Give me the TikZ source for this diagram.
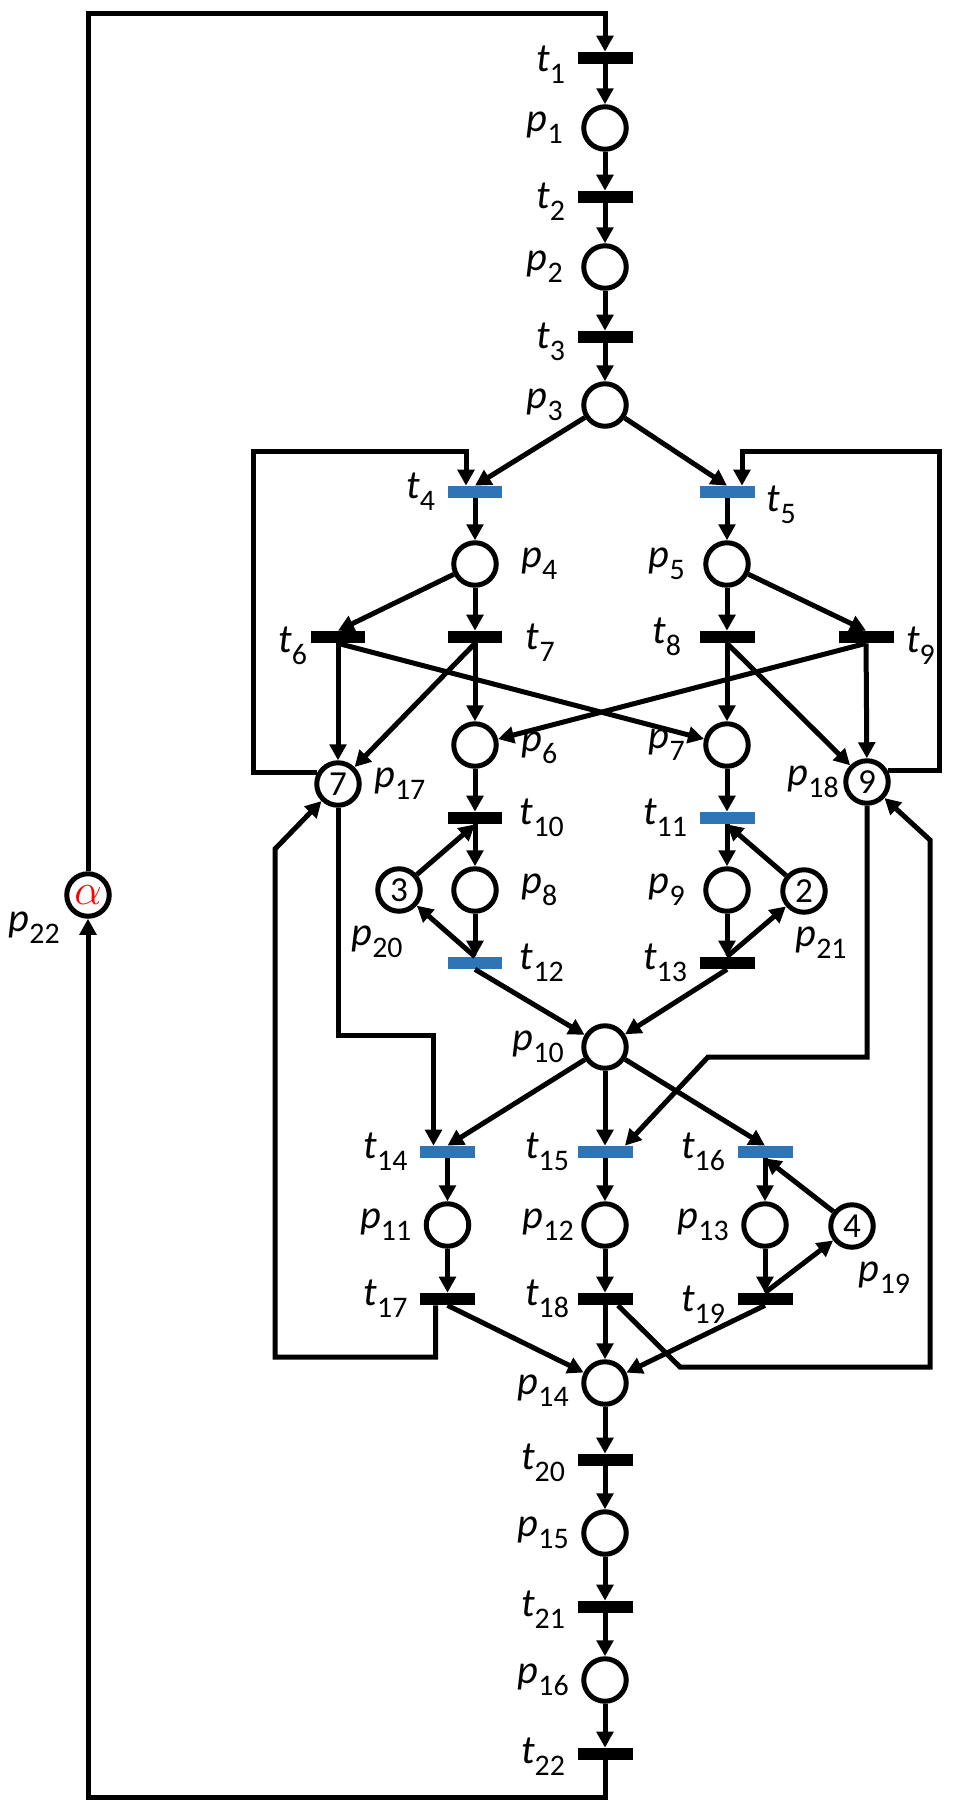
\documentclass[tikz,border=0pt]{standalone}
\usepackage{fontspec}
\setmainfont{Carlito}
\usetikzlibrary{arrows.meta,calc}
\definecolor{trblue}{RGB}{46,117,182}
\newcommand{\lfont}{\fontsize{23}{23}\selectfont}
\newcommand{\tlab}[1]{\textit{t}\raisebox{-0.3em}{\fontsize{17}{17}\selectfont #1}}
\newcommand{\plab}[1]{\textit{p}\raisebox{-0.3em}{\fontsize{17}{17}\selectfont #1}}
\tikzset{
	place/.style={circle,draw,line width=0.1cm,minimum size=0.85cm,inner sep=0pt,font=\fontsize{20}{20}\selectfont},
	trans/.style={rectangle,fill=black,minimum width=1.1cm,minimum height=0.254cm,inner sep=0pt,outer sep=0pt},
	btrans/.style={trans,fill=trblue},
	lab/.style={font=\lfont,inner sep=0pt}
}
\begin{document}
\begin{tikzpicture}[x=0.02cm,y=-0.02cm,>={Triangle[length=0.32cm,width=0.33cm]},line width=0.1cm,label distance=0.2cm]
	\useasboundingbox (0,0) rectangle (953,1813);
	% main column
	\node[trans,label={[lab,yshift=-0.14cm]left:\tlab{1}}] (t1) at (605,58) {};
	\node[place,label={[lab,xshift=-0.12cm]left:\plab{1}}] (p1) at (605,128) {};
	\node[trans,label={[lab,yshift=-0.1cm]left:\tlab{2}}] (t2) at (605,197) {};
	\node[place,label={[lab,xshift=-0.12cm]left:\plab{2}}] (p2) at (605,267) {};
	\node[trans,label={[lab,yshift=-0.1cm]left:\tlab{3}}] (t3) at (605,337) {};
	\node[place,label={[lab,xshift=-0.12cm]left:\plab{3}}] (p3) at (605,405) {};
	\node[btrans,label={[lab]left:\tlab{4}}] (t4) at (475,492) {};
	\node[btrans,label={[lab,yshift=-0.25cm]right:\tlab{5}}] (t5) at (727,492) {};
	\node[place,label={[lab,xshift=0.2cm]right:\plab{4}}] (p4) at (475,564) {};
	\node[place,label={[lab,xshift=-0.12cm]left:\plab{5}}] (p5) at (727,564) {};
	\node[trans,label={[lab,xshift=0.18cm,yshift=-0.18cm]left:\tlab{6}}] (t6) at (338,637) {};
	\node[trans,label={[lab,xshift=0.22cm,yshift=-0.12cm]right:\tlab{7}}] (t7) at (475,637) {};
	\node[trans,label={[lab,xshift=-0.12cm]left:\tlab{8}}] (t8) at (727,637) {};
	\node[trans,label={[lab,yshift=-0.18cm]right:\tlab{9}}] (t9) at (866,637) {};
	\node[place,label={[lab,xshift=0.2cm,yshift=-0.06cm]right:\plab{6}}] (p6) at (475,745) {};
	\node[place,label={[lab,xshift=-0.12cm]left:\plab{7}}] (p7) at (727,745) {};
	\node[place,label={[lab]right:\plab{17}}] (p17) at (338,784) {7};
	\node[place,label={[lab,xshift=0.16cm]left:\plab{18}}] (p18) at (867,782) {9};
	\node[trans,label={[lab,xshift=0.1cm]right:\tlab{10}}] (t10) at (475,818) {};
	\node[btrans,label={[lab]left:\tlab{11}}] (t11) at (727,818) {};
	\node[place,label={[lab,xshift=-0.44cm]below:\plab{20}}] (p20) at (399,890) {3};
	\node[place,label={[lab,xshift=0.2cm]right:\plab{8}}] (p8) at (475,890) {};
	\node[place,label={[lab,xshift=-0.12cm]left:\plab{9}}] (p9) at (727,890) {};
	\node[place,label={[lab,xshift=0.34cm]below:\plab{21}}] (p21) at (804,891) {2};
	\node[btrans,label={[lab,xshift=0.1cm]right:\tlab{12}}] (t12) at (475,963) {};
	\node[trans,label={[lab]left:\tlab{13}}] (t13) at (727,963) {};
	\node[place,label={[lab,xshift=-0.1cm]left:\plab{10}}] (p10) at (605,1047) {};
	\node[btrans,label={[lab]left:\tlab{14}}] (t14) at (447.5,1152) {};
	\node[btrans,label={[lab,xshift=0.08cm]left:\tlab{15}}] (t15) at (605,1152) {};
	\node[btrans,label={[lab]left:\tlab{16}}] (t16) at (765,1152) {};
	\node[place,label={[lab]left:\plab{11}}] (p11) at (447.5,1225) {};
	\node[place,label={[lab,xshift=0.1cm]left:\plab{12}}] (p12) at (605,1225) {};
	\node[place,label={[lab]left:\plab{13}}] (p13) at (765,1225) {};
	\node[place,label={[lab,xshift=0.65cm]below:\plab{19}}] (p19) at (852,1226) {4};
	\node[trans,label={[lab]left:\tlab{17}}] (t17) at (447.5,1299) {};
	\node[trans,label={[lab,xshift=0.08cm]left:\tlab{18}}] (t18) at (605,1299) {};
	\node[trans,label={[lab,yshift=-0.12cm]left:\tlab{19}}] (t19) at (765,1299) {};
	\node[place,label={[lab,yshift=-0.16cm]left:\plab{14}}] (p14) at (605,1383) {};
	\node[trans,label={[lab,yshift=-0.06cm]left:\tlab{20}}] (t20) at (605,1460) {};
	\node[place,label={[lab]left:\plab{15}}] (p15) at (605,1533) {};
	\node[trans,label={[lab,yshift=-0.06cm]left:\tlab{21}}] (t21) at (605,1607) {};
	\node[place,label={[lab]left:\plab{16}}] (p16) at (605,1680) {};
	\node[trans,label={[lab,yshift=-0.06cm]left:\tlab{22}}] (t22) at (605,1754) {};
	\node[place,label={[lab,yshift=-0.66cm,xshift=0.16cm]left:\plab{22}}] (p22) at (88,895) {\fontsize{24}{24}\selectfont\color{red}$\alpha$};
	% bends
	\coordinate (topc) at (605,13);
	\coordinate (botc) at (88,1797);
	\coordinate (lloop) at (253,451);
	\coordinate (rloop) at (939,451);
	\coordinate (b14) at (433.5,1035);
	\coordinate (b15) at (708,1057);
	\coordinate (b17a) at (275,1357);
	\coordinate (b17b) at (275,849);
	\coordinate (b18a) at (680,1367);
	\coordinate (b18b) at (930,840);
	% arcs
	\draw[->] (p22) |- (topc) -- (t1);
	\draw[->] (t22) |- (botc) -- (p22);
	\draw[->] (t1)--(p1);
	\draw[->] (p1)--(t2);
	\draw[->] (t2)--(p2);
	\draw[->] (p2)--(t3);
	\draw[->] (t3)--(p3);
	\draw[->] (p3)--(t4.north);
	\draw[->] (p3)--(t5.north);
	\draw[->] (t4)--(p4);
	\draw[->] (t5)--(p5);
	\draw[->] (p4)--(t6.north);
	\draw[->] (p4)--(t7);
	\draw[->] (p5)--(t8);
	\draw[->] (p5)--(t9.north);
	\draw[->] (t6)--(p17);
	\draw[->] (t6.south)--(p7);
	\draw[->] (t7.south)--(p17);
	\draw[->] (t7)--(p6);
	\draw[->] (t8)--(p7);
	\draw[->] (t8.south)--(p18);
	\draw[->] (t9.south)--(p6);
	\draw[->] (t9)--(p18);
	\draw[->] (p17.150) -| (lloop) -| ($(t4.north)+(-9,0)$);
	\draw[->] (p18.30) -| (rloop) -| ($(t5.north)+(15,0)$);
	\draw[->] (p6)--(t10);
	\draw[->] (p7)--(t11);
	\draw[->] (t10)--(p8);
	\draw[->] (t11)--(p9);
	\draw[->] (p20)--(t10.south);
	\draw[->] (p21)--(t11.south);
	\draw[->] (p8)--(t12);
	\draw[->] (p9)--(t13);
	\draw[->] (t12.north)--(p20);
	\draw[->] (t13.north)--(p21);
	\draw[->] (t12.south)--(p10);
	\draw[->] (t13.south)--(p10);
	\draw[->] (p10)--(t14.north);
	\draw[->] (p10)--(t15);
	\draw[->] (p10)--(t16.north);
	\draw[->] (p17) |- (b14) -- ($(t14.north)+(-14,0)$);
	\draw[->] (p18) |- (b15) -- ($(t15.north)+(20,0)$);
	\draw[->] (t14)--(p11);
	\draw[->] (t15)--(p12);
	\draw[->] (t16)--(p13);
	\draw[->] (p19)--(t16.south);
	\draw[->] (p11)--(t17);
	\draw[->] (p12)--(t18);
	\draw[->] (p13)--(t19);
	\draw[->] (t19.north)--(p19);
	\draw[->] (t17.south)--(p14);
	\draw[->] (t18)--(p14);
	\draw[->] (t19.south)--(p14);
	\draw[->] ($(t17.south)+(-12,0)$) |- (b17a) -- (b17b) -- (p17);
	\draw[->] ($(t18.south)+(13,0)$) -- (b18a) -| (b18b) -- (p18);
	\draw[->] (p14)--(t20);
	\draw[->] (t20)--(p15);
	\draw[->] (p15)--(t21);
	\draw[->] (t21)--(p16);
	\draw[->] (p16)--(t22);

\end{tikzpicture}
\end{document}
